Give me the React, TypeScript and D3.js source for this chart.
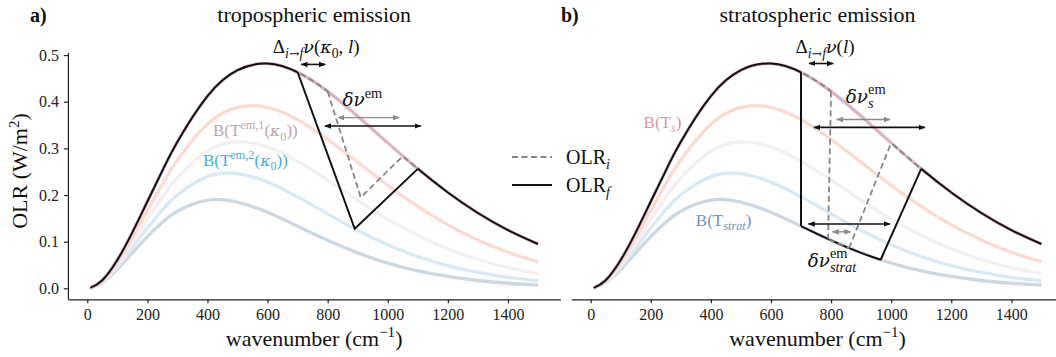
import { useRef, useEffect } from 'react';
import * as d3 from 'd3';

const wavenumbers = [10, 50, 100, 150, 200, 250, 300, 400, 500, 600, 700, 800, 900, 1000, 1100, 1200, 1300, 1400, 1500];

// OLR spectra (W/m2 per cm^-1) for the five emission temperatures
const b300 = [0.0008, 0.0173, 0.0608, 0.1199, 0.186, 0.2523, 0.3142, 0.4122, 0.4677, 0.4819, 0.4632, 0.4222, 0.369, 0.3118, 0.2561, 0.2054, 0.1614, 0.1247, 0.0949];
const b280 = [0.0007, 0.016, 0.0557, 0.1087, 0.1668, 0.2237, 0.2751, 0.3517, 0.3879, 0.388, 0.3616, 0.3193, 0.2702, 0.2208, 0.1754, 0.136, 0.1034, 0.0772, 0.0568];
const b260 = [0.0007, 0.0147, 0.0506, 0.0976, 0.1479, 0.1956, 0.2371, 0.2939, 0.3137, 0.3031, 0.2724, 0.2317, 0.1887, 0.1484, 0.1134, 0.0846, 0.0618, 0.0444, 0.0314];
const b240 = [0.0006, 0.0134, 0.0456, 0.0866, 0.1292, 0.1682, 0.2004, 0.2395, 0.2457, 0.2277, 0.1961, 0.1597, 0.1243, 0.0935, 0.0682, 0.0486, 0.0339, 0.0233, 0.0157];
const b220 = [0.0006, 0.0121, 0.0405, 0.0758, 0.1109, 0.1416, 0.1653, 0.1888, 0.1848, 0.163, 0.1332, 0.1029, 0.076, 0.0541, 0.0374, 0.0253, 0.0167, 0.0108, 0.0069];
const curveTemps = [300, 280, 260, 240, 220];
const curveColors = ['#dab4c5', '#fcdad1', '#f4eff0', '#d9eaf5', '#cdd8e3'];

const xTicks = [0, 200, 400, 600, 800, 1000, 1200, 1400];
const yTicks = [0, 0.1, 0.2, 0.3, 0.4, 0.5];

// OLR pieces that run along a Planck curve: [temperature, from, to]
const followAf = [[300, 0, 700], [300, 1100, 1600]];
const followAi = [[300, 700, 800], [300, 1050, 1100]];
const followBf = [[300, 0, 700], [220, 700, 965], [300, 1100, 1600]];
const followBi = [[300, 700, 800], [220, 790, 860], [300, 1000, 1100]];
// straight jumps between them: [wavenumber, OLR]
const linksAf = [[[700, 0.4632], [890, 0.1277], [1100, 0.2561]]];
const linksAi = [[[800, 0.4222], [910, 0.195], [1050, 0.2834]]];
const linksBf = [[[700, 0.4632], [700, 0.1332]], [[965, 0.0612], [1100, 0.2561]]];
const linksBi = [[[800, 0.4222], [790, 0.1058]], [[860, 0.0862], [1000, 0.3118]]];

// double arrows: [from, to, OLR level, colour]
const arrowsA = [[712, 792, 0.48, 'k'], [835, 1038, 0.366, 'g'], [791, 1110, 0.348, 'k']];
const arrowsB = [[727, 807, 0.482, 'k'], [819, 996, 0.362, 'g'], [743, 1112, 0.345, 'k'], [725, 996, 0.138, 'k'], [805, 865, 0.121, 'g']];

const SERIF = "'Liberation Serif', 'Times New Roman', serif";
const MATH = "'DejaVu Serif', serif";

type Part = { t: string; it?: boolean; pos?: 'sub' | 'sup'; back?: boolean; math?: boolean };

const deltaA: Part[] = [{ t: 'Δ' }, { t: 'i', it: true, pos: 'sub' }, { t: '→', pos: 'sub', math: true }, { t: 'f', it: true, pos: 'sub' }, { t: 'ν', it: true, math: true }, { t: '(' }, { t: 'κ', it: true, math: true }, { t: '0', pos: 'sub' }, { t: ', ' }, { t: 'l', it: true }, { t: ')' }];
const deltaB: Part[] = [{ t: 'Δ' }, { t: 'i', it: true, pos: 'sub' }, { t: '→', pos: 'sub', math: true }, { t: 'f', it: true, pos: 'sub' }, { t: 'ν', it: true, math: true }, { t: '(' }, { t: 'l', it: true }, { t: ')' }];
const dnuEm: Part[] = [{ t: 'δν', it: true, math: true }, { t: 'em', pos: 'sup' }];
const dnuS: Part[] = [{ t: 'δν', it: true, math: true }, { t: 's', it: true, pos: 'sub' }, { t: 'em', pos: 'sup', back: true }];
const dnuStrat: Part[] = [{ t: 'δν', it: true, math: true }, { t: 'em', pos: 'sup' }, { t: 'strat', it: true, pos: 'sub', back: true }];
const labEm1: Part[] = [{ t: 'B(T' }, { t: 'em,1', pos: 'sup' }, { t: '(' }, { t: 'κ', it: true, math: true }, { t: '0', pos: 'sub' }, { t: '))' }];
const labEm2: Part[] = [{ t: 'B(T' }, { t: 'em,2', pos: 'sup' }, { t: '(' }, { t: 'κ', it: true, math: true }, { t: '0', pos: 'sub' }, { t: '))' }];
const labTs: Part[] = [{ t: 'B(T' }, { t: 's', it: true, pos: 'sub' }, { t: ')' }];
const labStrat: Part[] = [{ t: 'B(T' }, { t: 'strat', it: true, pos: 'sub' }, { t: ')' }];

// text annotations: [parts, wavenumber, OLR, size, colour, anchor]
const textsA: [Part[], number, number, number, string, string][] = [
  [deltaA, 762, 0.505, 19, '#111', 'middle'],
  [dnuEm, 849, 0.391, 20, '#111', 'start'],
  [labEm1, 418, 0.326, 17, '#b9a6ac', 'start'],
  [labEm2, 385, 0.262, 17, '#4aaed9', 'start'],
];
const textsB: [Part[], number, number, number, string, string][] = [
  [deltaB, 780, 0.505, 19, '#111', 'middle'],
  [dnuS, 849, 0.398, 20, '#111', 'start'],
  [dnuStrat, 722, 0.046, 20, '#111', 'start'],
  [labTs, 176, 0.344, 17, '#d494a8', 'start'],
  [labStrat, 350, 0.134, 17, '#6f92ba', 'start'],
];

function mathText(g: any, x: number, y: number, parts: Part[], size: number, color: string, anchor: string) {
  const text = g.append('text').attr('x', x).attr('y', y).attr('fill', color)
    .attr('font-size', size).attr('font-family', SERIF).attr('text-anchor', anchor);
  let shift = 0;
  let prevLen = 0;
  parts.forEach((p) => {
    const target = p.pos === 'sub' ? size * 0.25 : p.pos === 'sup' ? -size * 0.42 : 0;
    const ts = text.append('tspan').attr('dy', target - shift).text(p.t);
    const k = p.pos ? 0.72 : 1;
    ts.attr('font-size', size * k * (p.math ? 0.92 : 1));
    if (p.it) ts.attr('font-style', 'italic');
    if (p.math) ts.attr('font-family', MATH);
    if (p.back) ts.attr('dx', -prevLen);
    shift = target;
    prevLen = (ts.node() as SVGTSpanElement).getComputedTextLength();
  });
}

export default function App() {
  const svgRef = useRef<SVGSVGElement>(null);

  useEffect(() => {
    if (!svgRef.current) return;
    const svg = d3.select(svgRef.current);
    svg.selectAll('*').remove();

    const y = d3.scaleLinear().domain([-0.0236, 0.506]).range([299.3, 52.3]);
    const curves = [b300, b280, b260, b240, b220];
    const byTemp = new Map(curveTemps.map((t, i) => [t, curves[i]]));

    const defs = svg.append('defs');
    [['k', '#111'], ['g', '#8a8a8a']].forEach(([id, c]) => {
      defs.append('marker').attr('id', `ah-${id}`).attr('viewBox', '0 0 10 10')
        .attr('refX', 9).attr('refY', 5).attr('markerWidth', 7).attr('markerHeight', 7)
        .attr('markerUnits', 'userSpaceOnUse').attr('orient', 'auto-start-reverse')
        .append('path').attr('d', 'M0,1 L10,5 L0,9 z').attr('fill', c);
    });

    const panels = [
      { id: 'a', label: 'a)', title: 'tropospheric emission', range: [67.9, 560.4], yAxis: true, labelX: 30,
        fF: followAf, fI: followAi, lF: linksAf, lI: linksAi, arrows: arrowsA, texts: textsA },
      { id: 'b', label: 'b)', title: 'stratospheric emission', range: [571.3, 1063.8], yAxis: false, labelX: 561,
        fF: followBf, fI: followBi, lF: linksBf, lI: linksBi, arrows: arrowsB, texts: textsB },
    ];

    panels.forEach((p) => {
      const x = d3.scaleLinear().domain([-64.5, 1574.5]).range(p.range);
      const g = svg.append('g');

      const line = d3.line<number>().x((_, i) => x(wavenumbers[i])).y((d) => y(d)).curve(d3.curveNatural);
      const straight = d3.line<number[]>().x((d) => x(d[0])).y((d) => y(d[1]));

      // faded Planck curves
      curves.slice().reverse().forEach((c, i) => {
        g.append('path').datum(c).attr('d', line).attr('fill', 'none')
          .attr('stroke', curveColors[curves.length - 1 - i]).attr('stroke-width', 3.3);
      });

      const drawOlr = (follow: number[][], links: number[][][], color: string, width: number, dash: string | null, tag: string) => {
        follow.forEach(([t, a, b], k) => {
          const cid = `clip-${p.id}-${tag}-${k}`;
          defs.append('clipPath').attr('id', cid).append('rect')
            .attr('x', x(a)).attr('y', 0).attr('width', x(b) - x(a)).attr('height', 357);
          const path = g.append('path').datum(byTemp.get(t)!).attr('d', line).attr('fill', 'none')
            .attr('stroke', color).attr('stroke-width', width).attr('clip-path', `url(#${cid})`);
          if (dash) path.attr('stroke-dasharray', dash);
        });
        links.forEach((pts) => {
          const path = g.append('path').datum(pts).attr('d', straight).attr('fill', 'none')
            .attr('stroke', color).attr('stroke-width', width).attr('stroke-linejoin', 'miter');
          if (dash) path.attr('stroke-dasharray', dash);
        });
      };
      drawOlr(p.fF, p.lF, '#111', 2, null, 'f');
      drawOlr(p.fI, p.lI, '#858585', 1.8, '6,3.5', 'i');

      // arrows
      p.arrows.forEach(([a, b, v, c]) => {
        g.append('line').attr('x1', x(a as number)).attr('x2', x(b as number))
          .attr('y1', y(v as number)).attr('y2', y(v as number))
          .attr('stroke', c === 'k' ? '#111' : '#8a8a8a').attr('stroke-width', c === 'k' ? 1.6 : 1.4)
          .attr('marker-start', `url(#ah-${c})`).attr('marker-end', `url(#ah-${c})`);
      });

      // annotations
      p.texts.forEach(([parts, nu, v, size, color, anchor]) => {
        mathText(g, x(nu), y(v), parts, size, color, anchor);
      });

      // axes
      const xAxis = g.append('g').attr('transform', `translate(0,${y.range()[0]})`)
        .call(d3.axisBottom(x).tickValues(xTicks).tickFormat(d3.format('d')).tickSize(4).tickSizeOuter(0).tickPadding(5));
      xAxis.attr('font-family', SERIF).attr('font-size', 16);
      xAxis.selectAll('path,line').attr('stroke', '#222').attr('stroke-width', 1.2);
      xAxis.selectAll('text').attr('fill', '#222');

      if (p.yAxis) {
        const yAxis = g.append('g').attr('transform', `translate(${p.range[0]},0)`)
          .call(d3.axisLeft(y).tickValues(yTicks).tickFormat(d3.format('.1f')).tickSize(4).tickSizeOuter(0).tickPadding(5));
        yAxis.attr('font-family', SERIF).attr('font-size', 16);
        yAxis.selectAll('path,line').attr('stroke', '#222').attr('stroke-width', 1.2);
        yAxis.selectAll('text').attr('fill', '#222');

        const yl = g.append('text').attr('transform', `translate(27,171) rotate(-90)`)
          .attr('text-anchor', 'middle').attr('font-family', SERIF).attr('font-size', 22).attr('fill', '#111');
        yl.append('tspan').text('OLR (W/m');
        yl.append('tspan').attr('dy', -8).attr('font-size', 15).text('2');
        yl.append('tspan').attr('dy', 8).text(')');
      }

      const cx = (p.range[0] + p.range[1]) / 2;
      const xl = g.append('text').attr('x', cx).attr('y', 346).attr('text-anchor', 'middle')
        .attr('font-family', SERIF).attr('font-size', 22).attr('fill', '#111');
      xl.append('tspan').text('wavenumber (cm');
      xl.append('tspan').attr('dy', -9).attr('font-size', 15).text('−1');
      xl.append('tspan').attr('dy', 9).text(')');

      g.append('text').attr('x', cx).attr('y', 22).attr('text-anchor', 'middle')
        .attr('font-family', SERIF).attr('font-size', 22).attr('fill', '#111').text(p.title);
      g.append('text').attr('x', p.labelX).attr('y', 22).attr('font-family', SERIF)
        .attr('font-size', 20).attr('font-weight', 'bold').attr('fill', '#111').text(p.label);
    });

    // legend
    const legend = svg.append('g');
    [['i', '#858585', '6,3.5', 157], ['f', '#111', null, 185]].forEach(([sub, c, dash, ly]) => {
      const l = legend.append('line').attr('x1', 512).attr('x2', 552).attr('y1', ly as number).attr('y2', ly as number)
        .attr('stroke', c as string).attr('stroke-width', sub === 'i' ? 1.8 : 2);
      if (dash) l.attr('stroke-dasharray', dash as string);
      const t = legend.append('text').attr('x', 566).attr('y', (ly as number) + 7)
        .attr('font-family', SERIF).attr('font-size', 20).attr('fill', '#111');
      t.append('tspan').text('OLR');
      t.append('tspan').attr('dy', 5).attr('font-size', 14).attr('font-style', 'italic').text(sub as string);
    });
  }, []);

  return <svg ref={svgRef} width={1056} height={357} style={{ position: 'absolute', left: 0, top: 0, background: '#fff' }} />;
}
